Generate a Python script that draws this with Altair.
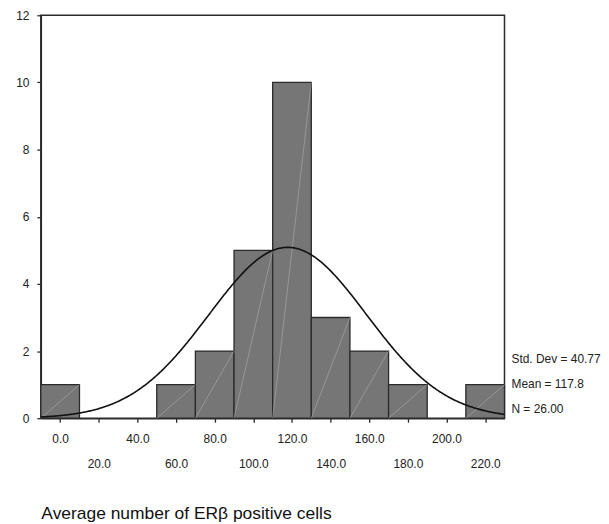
import altair as alt
import pandas as pd

# Histogram bins (bin centres) and counts
bin_centers = [0, 60, 80, 100, 120, 140, 160, 180, 220]
counts = [1, 1, 2, 5, 10, 3, 2, 1, 1]
bin_width = 20

# Summary statistics shown next to the chart
std_dev = 40.77
mean = 117.8
n = 26
stat_labels = ["Std. Dev = 40.77", "Mean = 117.8", "N = 26.00"]

x_ticks = list(range(0, 221, 20))
y_ticks = list(range(0, 13, 2))

FONT = "Liberation Sans"
EDGE = "#2b2b2b"

bars_df = pd.DataFrame({
    "start": [c - bin_width / 2 for c in bin_centers],
    "end": [c + bin_width / 2 for c in bin_centers],
    "count": counts,
})
stats_df = pd.DataFrame({"label": stat_labels, "row": list(range(len(stat_labels)))})

x_scale = alt.Scale(domain=[-10, 230], nice=False, zero=False)
y_scale = alt.Scale(domain=[0, 12], nice=False)

x_axis = alt.Axis(
    values=x_ticks,
    labelExpr="datum.value % 40 == 0 ? format(datum.value, '.1f') : ['', format(datum.value, '.1f')]",
    labelLineHeight=25.5,
    labelOverlap=False,
    labelFlush=False,
    labelPadding=11,
    tickSize=4,
    grid=False,
    title="Average number of ERβ positive cells",
    titleFontSize=17.5,
    titleFontWeight="normal",
    titleAnchor="start",
    titleAlign="left",
    titleBaseline="alphabetic",
    titleX=0,
    titleY=101,
    titleColor="#111111",
)
y_axis = alt.Axis(
    values=y_ticks,
    format="d",
    labelPadding=8,
    tickSize=4,
    grid=False,
    title=None,
)

base = alt.Chart(bars_df)

bars = base.mark_rect(fill="#767676", stroke=EDGE, strokeWidth=1.3).encode(
    x=alt.X("start:Q", scale=x_scale, axis=x_axis),
    x2="end:Q",
    y=alt.Y("count:Q", scale=y_scale, axis=y_axis),
    y2=alt.Y2("zero:Q"),
).transform_calculate(zero="0")

diag = base.mark_rule(color="#adadad", strokeWidth=0.6).encode(
    x=alt.X("start:Q", scale=x_scale),
    x2="end:Q",
    y=alt.Y("zero:Q", scale=y_scale),
    y2="count:Q",
).transform_calculate(zero="0")

curve = alt.Chart(alt.sequence(-10, 230.5, 0.5, as_="v")).transform_calculate(
    dens=f"{n * bin_width} / ({std_dev} * sqrt(2 * PI)) * exp(-0.5 * pow((datum.v - {mean}) / {std_dev}, 2))"
).mark_line(color="#111111", strokeWidth=1.6).encode(
    x=alt.X("v:Q", scale=x_scale),
    y=alt.Y("dens:Q", scale=y_scale),
)

stats = alt.Chart(stats_df).transform_calculate(
    ypx="345 + 25.5 * datum.row"
).mark_text(align="left", baseline="middle", fontSize=12, font=FONT, color="#222222").encode(
    x=alt.value(473),
    y=alt.Y("ypx:Q", scale=None),
    text="label:N",
)

chart = alt.layer(bars, diag, curve, stats).properties(
    width=466,
    height=405,
    padding={"left": 7, "top": 0, "right": 0, "bottom": 0},
).configure_view(
    stroke=EDGE, strokeWidth=1.5
).configure_axis(
    domainColor=EDGE,
    domainWidth=1.5,
    tickColor=EDGE,
    tickWidth=1.3,
    labelFont=FONT,
    titleFont=FONT,
    labelFontSize=12,
    labelColor="#222222",
)

chart.save("out.html", embed_options={"renderer": "svg", "actions": False})
